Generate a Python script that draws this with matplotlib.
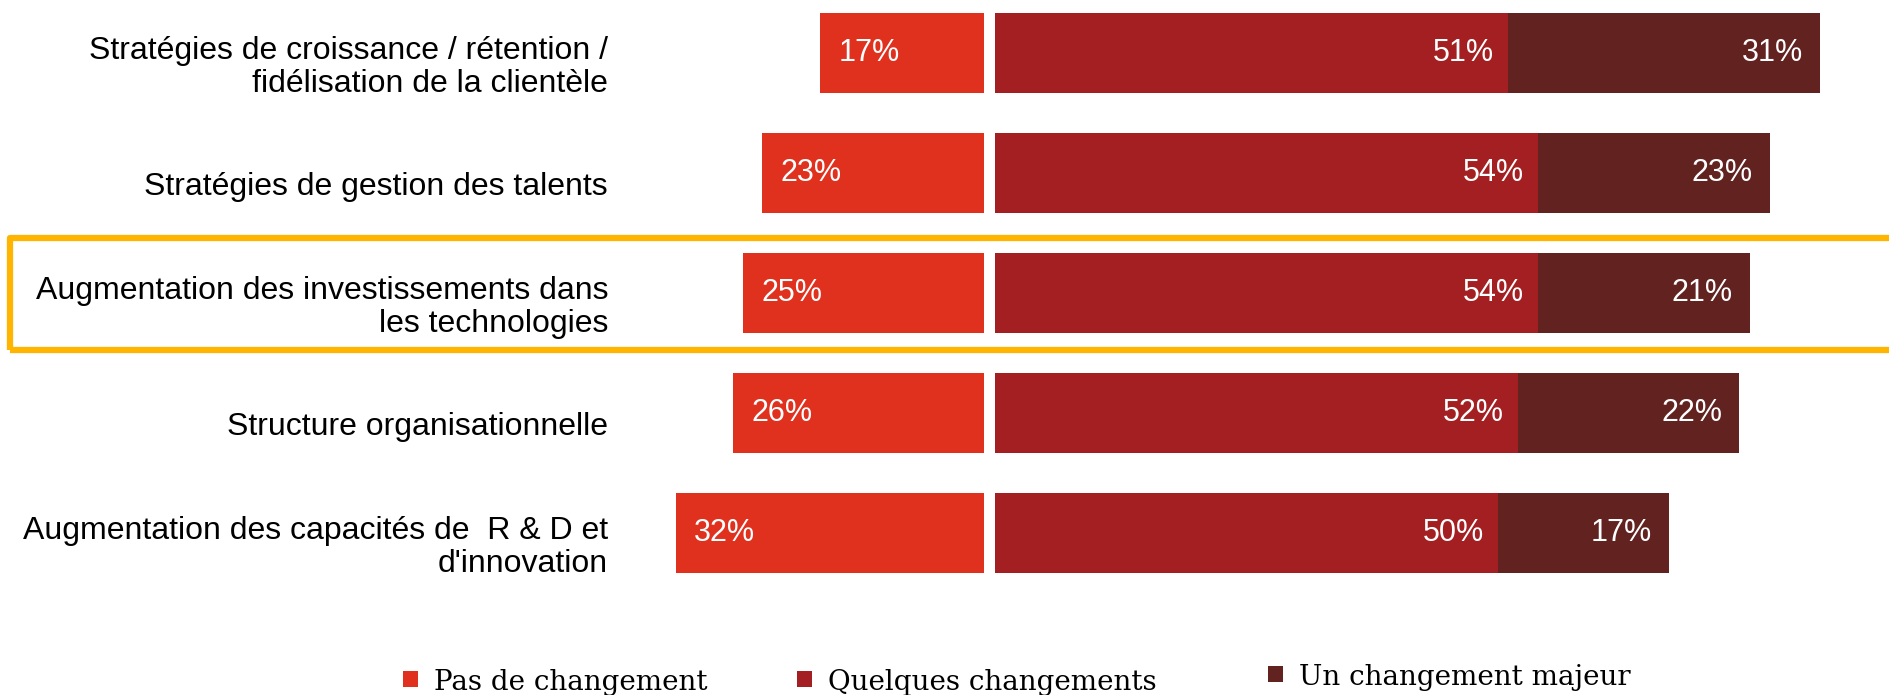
import matplotlib
matplotlib.use('Agg')
import matplotlib.pyplot as plt
import numpy as np
from matplotlib.patches import Rectangle

categories = [
	'Stratégies de croissance / rétention /\nfidélisation de la clientèle',
	'Stratégies de gestion des talents',
	'Augmentation des investissements dans\nles technologies',
	'Structure organisationnelle',
	"Augmentation des capacités de  R & D et\nd'innovation",
]
pas = [17, 23, 25, 26, 32]  # Pas de changement
quelques = [51, 54, 54, 52, 50]  # Quelques changements
majeur = [31, 23, 21, 22, 17]  # Un changement majeur
series_names = ['Pas de changement', 'Quelques changements', 'Un changement majeur']
colors = ['#E0311F', '#A31F21', '#612220']
highlight = 2  # row framed in orange

plt.rcParams['font.family'] = ['Liberation Sans', 'DejaVu Sans']

W, H = 1889, 695
fig = plt.figure(figsize=(W/100, H/100), dpi=100)
# left panel holds "pas de changement", drawn leftward; right panel the rest
ax_l = fig.add_axes([646.6/W, 95/H, 337.4/W, 600/H])
ax_r = fig.add_axes([995/W, 95/H, 885.3/W, 600/H])

y = np.arange(len(categories))
h = 2/3
ax_l.barh(y, pas, height=h, color=colors[0])
ax_r.barh(y, quelques, height=h, color=colors[1])
ax_r.barh(y, majeur, left=quelques, height=h, color=colors[2])
ax_l.set_xlim(35, 0)
ax_r.set_xlim(0, 88)
for ax in (ax_l, ax_r):
	ax.set_ylim(4.558, -0.442)
	ax.axis('off')

fs = 22
for i in range(len(categories)):
	ax_l.annotate(f'{pas[i]}%', (pas[i], i), xytext=(13, 0), textcoords='offset points',
		ha='left', va='center', color='white', fontsize=fs)
	ax_r.annotate(f'{quelques[i]}%', (quelques[i], i), xytext=(-10, 0), textcoords='offset points',
		ha='right', va='center', color='white', fontsize=fs)
	ax_r.annotate(f'{majeur[i]}%', (quelques[i]+majeur[i], i), xytext=(-12, 0), textcoords='offset points',
		ha='right', va='center', color='white', fontsize=fs)
	ax_l.text(-0.1144, i+0.12, categories[i], transform=ax_l.get_yaxis_transform(),
		ha='right', va='center', fontsize=23, color='black', linespacing=1.13)

# orange frame round the highlighted row
fig.patches.append(Rectangle((10/W, 345/H), 1.0, 112/H, transform=fig.transFigure,
	fill=False, edgecolor='#FFB400', lw=4.5, joinstyle='round', clip_on=False))

# legend along the bottom
leg_x = [403, 797, 1268]
leg_base = [5, 5, 10]
leg_sq = [8, 8, 13]
for name, c, lx, lb, sq in zip(series_names, colors, leg_x, leg_base, leg_sq):
	fig.patches.append(Rectangle((lx/W, sq/H), 15/W, 16/H, transform=fig.transFigure,
		facecolor=c, edgecolor='none'))
	fig.text((lx+31)/W, lb/H, name, ha='left', va='baseline', fontsize=20,
		family='DejaVu Serif', color='black')

fig.savefig('out.png', dpi=100)
